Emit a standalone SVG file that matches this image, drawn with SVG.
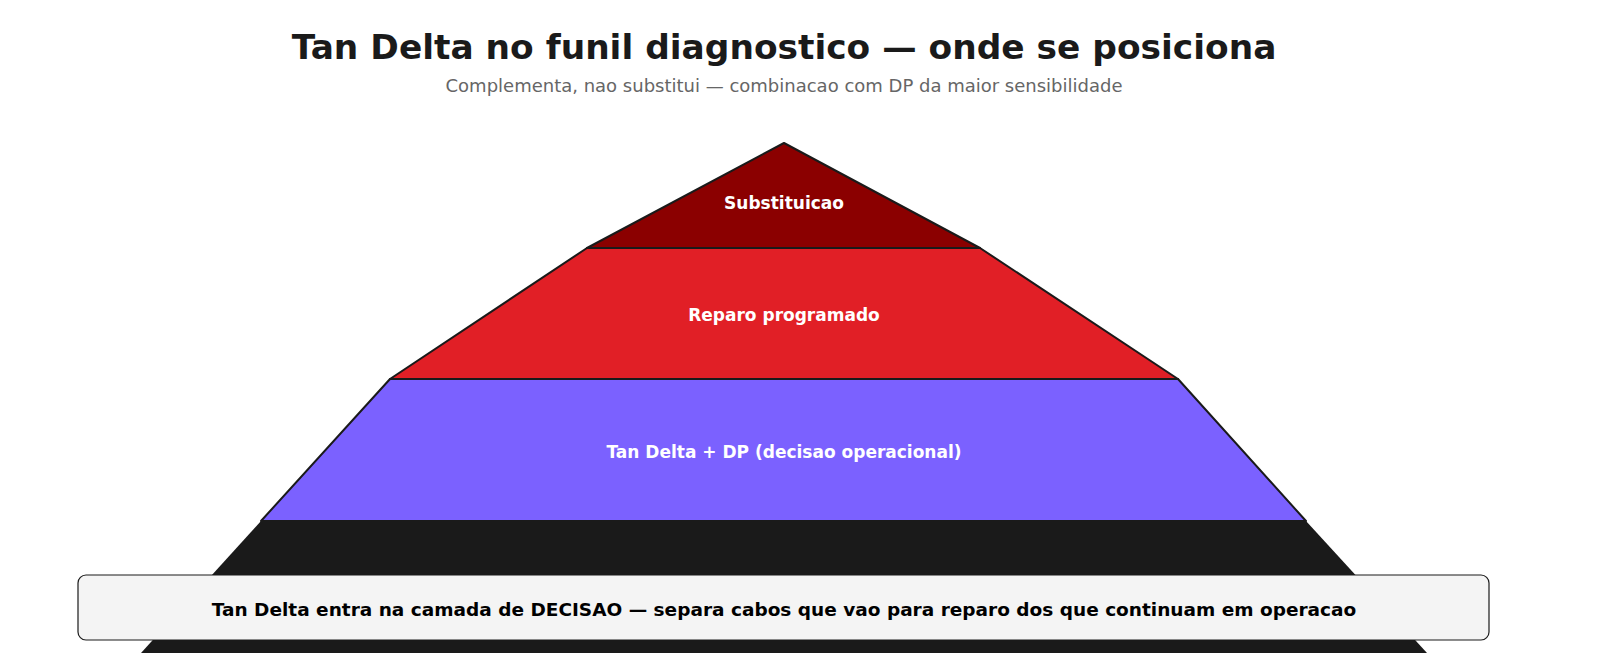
<svg xmlns="http://www.w3.org/2000/svg" width="1600" height="667" viewBox="0 0 1600 667">
<style>
text{font-family:"DejaVu Sans",sans-serif;text-anchor:middle}
.lbl{fill:#fff;font-weight:bold;font-size:17px}
.lay{stroke:#1a1a1a;stroke-width:2;stroke-linejoin:round}
</style>
<rect width="1600" height="667" fill="#fff"/>
<text x="784" y="59" font-size="34.4" font-weight="bold" fill="#1a1a1a">Tan Delta no funil diagnostico — onde se posiciona</text>
<text x="784" y="92" font-size="18" fill="#666">Complementa, nao substitui — combinacao com DP da maior sensibilidade</text>
<g id="layer4"><polygon points="261,521 1306,521 1427,653 141,653" fill="#1a1a1a"/></g>
<g id="layer3"><polygon class="lay" points="390,379 1178,379 1306,521 261,521" fill="#7b61ff"/><text class="lbl" x="784" y="458">Tan Delta + DP (decisao operacional)</text></g>
<g id="layer2"><polygon class="lay" points="587,248 980,248 1178,379 390,379" fill="#e11f26"/><text class="lbl" x="784" y="321">Reparo programado</text></g>
<g id="layer1"><polygon class="lay" points="784,143 980,248 587,248" fill="#8b0000"/><text class="lbl" x="784" y="209">Substituicao</text></g>
<g id="note"><rect x="78" y="575" width="1411" height="65" rx="8" fill="#f4f4f4" stroke="#1a1a1a" stroke-width="1.2"/><text x="784" y="616" font-size="18.5" font-weight="bold" fill="#000">Tan Delta entra na camada de DECISAO — separa cabos que vao para reparo dos que continuam em operacao</text></g>
<g id="connectors"/>
</svg>
